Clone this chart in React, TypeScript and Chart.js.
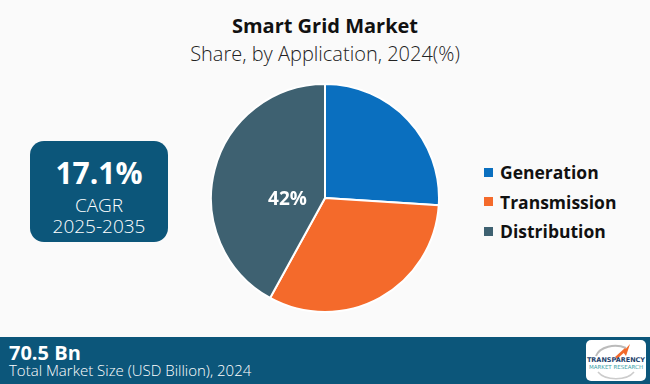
import React, { useEffect, useRef } from "react";
import { Chart, registerables } from "chart.js";

Chart.register(...registerables);

const chartTitle = "Smart Grid Market";
const chartSubtitle = "Share, by Application, 2024(%)";
const categories = ["Generation", "Transmission", "Distribution"];
const shares = [26, 32, 42];
const sliceColors = ["#0a6fbf", "#f46a2b", "#3e6171"];
const showSliceLabel = [false, false, true];
const cagrValue = "17.1%";
const cagrLabel = "CAGR";
const cagrPeriod = "2025-2035";
const marketSize = "70.5 Bn";
const marketSizeLabel = "Total Market Size (USD Billion), 2024";

const DARK = "#0c567a";
const FONT = "'Open Sans', 'DejaVu Sans', sans-serif";

const sliceLabelPlugin = {
  id: "sliceLabel",
  afterDatasetsDraw(chart: any) {
    const meta = chart.getDatasetMeta(0);
    const ctx = chart.ctx;
    ctx.save();
    ctx.fillStyle = "#ffffff";
    ctx.font = `bold 19px ${FONT}`;
    ctx.textAlign = "center";
    ctx.textBaseline = "middle";
    meta.data.forEach((arc: any, i: number) => {
      if (!showSliceLabel[i]) return;
      const mid = (arc.startAngle + arc.endAngle) / 2;
      const x = arc.x + Math.cos(mid) * arc.outerRadius * 0.34;
      const y = arc.y + 2;
      ctx.fillText(`${shares[i]}%`, x, y);
    });
    ctx.restore();
  },
};

function PieChart() {
  const ref = useRef<HTMLCanvasElement | null>(null);
  useEffect(() => {
    if (!ref.current) return;
    const chart = new Chart(ref.current, {
      type: "pie",
      data: {
        labels: categories,
        datasets: [
          {
            data: shares,
            backgroundColor: sliceColors,
            borderColor: "#ffffff",
            borderWidth: 2,
          },
        ],
      },
      options: {
        animation: false,
        responsive: false,
        maintainAspectRatio: false,
        layout: { padding: 0 },
        plugins: {
          legend: { display: false },
          tooltip: { enabled: false },
          title: { display: false },
        },
      },
      plugins: [sliceLabelPlugin],
    });
    return () => chart.destroy();
  }, []);
  return (
    <canvas
      ref={ref}
      width={230}
      height={230}
      style={{ position: "absolute", left: 210, top: 83, width: 230, height: 230 }}
    />
  );
}

export default function App() {
  return (
    <div
      style={{
        position: "absolute",
        left: 0,
        top: 0,
        width: 650,
        height: 384,
        background: "#fafafa",
        overflow: "hidden",
        fontFamily: FONT,
      }}
    >
      <div
        style={{
          position: "absolute",
          left: 0,
          top: 14,
          width: 650,
          textAlign: "center",
          lineHeight: "24px",
          fontSize: 20,
          fontWeight: 700,
          color: "#111",
        }}
      >
        {chartTitle}
      </div>
      <div
        style={{
          position: "absolute",
          left: 0,
          top: 42,
          width: 650,
          textAlign: "center",
          lineHeight: "24px",
          fontSize: 20,
          fontWeight: 300,
          color: "#222",
        }}
      >
        {chartSubtitle}
      </div>

      <div
        style={{
          position: "absolute",
          left: 30,
          top: 141,
          width: 138,
          height: 101,
          borderRadius: 14,
          background: DARK,
          color: "#fff",
          textAlign: "center",
        }}
      >
        <div style={{ position: "absolute", left: 0, width: 138, top: 14, lineHeight: "36px", fontSize: 30, fontWeight: 700 }}>
          {cagrValue}
        </div>
        <div style={{ position: "absolute", left: 0, width: 138, top: 52, lineHeight: "24px", fontSize: 19, fontWeight: 300 }}>
          {cagrLabel}
        </div>
        <div style={{ position: "absolute", left: 0, width: 138, top: 73, lineHeight: "24px", fontSize: 19, fontWeight: 300 }}>
          {cagrPeriod}
        </div>
      </div>

      <PieChart />

      {categories.map((c, i) => (
        <div
          key={c}
          style={{
            position: "absolute",
            left: 484,
            top: 160 + i * 29.5,
            height: 24,
            display: "flex",
            alignItems: "center",
          }}
        >
          <div style={{ width: 9, height: 9, background: sliceColors[i], marginRight: 7 }} />
          <div style={{ fontSize: 17.5, fontWeight: 700, color: "#111", lineHeight: "24px" }}>{c}</div>
        </div>
      ))}

      <div style={{ position: "absolute", left: 0, top: 337, width: 650, height: 47, background: DARK }}>
        <div style={{ position: "absolute", left: 9, top: 5, lineHeight: "22px", fontSize: 20, fontWeight: 700, color: "#fff" }}>
          {marketSize}
        </div>
        <div style={{ position: "absolute", left: 9, top: 22, lineHeight: "22px", fontSize: 15, fontWeight: 300, color: "#fff" }}>
          {marketSizeLabel}
        </div>
        <div
          style={{
            position: "absolute",
            left: 586,
            top: 3,
            width: 60,
            height: 41,
            borderRadius: 5,
            background: "#ffffff",
            textAlign: "center",
          }}
        >
          <svg width="60" height="41" style={{ position: "absolute", left: 0, top: 0 }}>
            <path d="M10 16 A 20 14 0 0 1 40 8" stroke="#bbb" strokeWidth="2" fill="none" />
            <path d="M44 4 L 40 16 L 37 12 Z" fill="#f26a2b" />
            <path d="M40 9 L 30 18" stroke="#f26a2b" strokeWidth="3" />
            <path d="M12 32 A 20 12 0 0 0 48 32" stroke="#ccc" strokeWidth="1.5" fill="none" />
          </svg>
          <div style={{ position: "absolute", left: 0, width: 60, top: 16, fontSize: 6.5, fontWeight: 800, color: "#1d3f6b", lineHeight: "8px", fontFamily: "'DejaVu Sans', sans-serif" }}>
            TRANSPARENCY
          </div>
          <div style={{ position: "absolute", left: 0, width: 60, top: 24, fontSize: 5.5, color: "#3aa0a8", lineHeight: "7px", fontFamily: "'DejaVu Sans', sans-serif" }}>
            MARKET RESEARCH
          </div>
        </div>
      </div>
    </div>
  );
}
